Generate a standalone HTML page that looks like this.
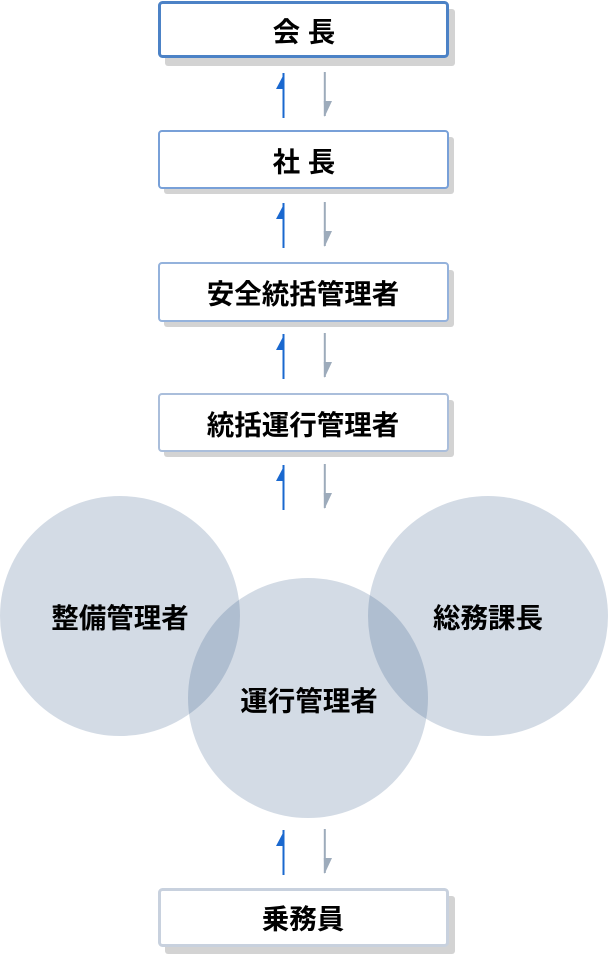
<!DOCTYPE html>
<html>
<head>
<meta charset="utf-8">
<style>
  html,body{margin:0;padding:0;background:#fff;}
  body{width:608px;height:954px;overflow:hidden;}
  svg{display:block;}
  text{font-family:"Liberation Sans","Noto Sans CJK JP",sans-serif;font-weight:bold;font-size:27.5px;fill:#000;}
</style>
</head>
<body>
<svg width="608" height="954" viewBox="0 0 608 954" xmlns="http://www.w3.org/2000/svg">
  <!-- 会長 -->
  <rect x="165" y="9" width="290" height="57" rx="3" fill="#d3d3d3"/>
  <rect x="159.5" y="2.5" width="288" height="54" rx="3" fill="#fff" stroke="#4c82c6" stroke-width="3"/>
  <text x="304" y="32" text-anchor="middle" dominant-baseline="central">会 長</text>

  <!-- 社長 -->
  <rect x="164" y="137" width="290" height="57" rx="3" fill="#d3d3d3"/>
  <rect x="159" y="131" width="289" height="57" rx="3" fill="#fff" stroke="#78a0d8" stroke-width="2"/>
  <text x="304" y="162" text-anchor="middle" dominant-baseline="central">社 長</text>

  <!-- 安全統括管理者 -->
  <rect x="164" y="270" width="290" height="57" rx="3" fill="#d3d3d3"/>
  <rect x="159" y="263" width="289" height="58" rx="3" fill="#fff" stroke="#94b2dc" stroke-width="2"/>
  <text x="303" y="294" text-anchor="middle" dominant-baseline="central">安全統括管理者</text>

  <!-- 統括運行管理者 -->
  <rect x="164" y="400" width="290" height="57" rx="3" fill="#d3d3d3"/>
  <rect x="159" y="394" width="289" height="57" rx="3" fill="#fff" stroke="#aabedb" stroke-width="2"/>
  <text x="303" y="425" text-anchor="middle" dominant-baseline="central">統括運行管理者</text>

  <!-- 乗務員 -->
  <rect x="165" y="896" width="290" height="58" rx="3" fill="#d3d3d3"/>
  <rect x="159.5" y="889.5" width="288" height="56" rx="3" fill="#fff" stroke="#c8d1de" stroke-width="3"/>
  <text x="303" y="919" text-anchor="middle" dominant-baseline="central">乗務員</text>

  <!-- Circles -->
  <circle cx="120" cy="616" r="120" fill="rgb(35,75,125)" fill-opacity="0.2"/>
  <circle cx="308" cy="698" r="120" fill="rgb(35,75,125)" fill-opacity="0.2"/>
  <circle cx="488" cy="616" r="120" fill="rgb(35,75,125)" fill-opacity="0.2"/>
  <text x="120" y="618" text-anchor="middle" dominant-baseline="central">整備管理者</text>
  <text x="309" y="701" text-anchor="middle" dominant-baseline="central">運行管理者</text>
  <text x="488" y="618" text-anchor="middle" dominant-baseline="central">総務課長</text>

  <!-- Arrows -->
  <defs>
    <g id="arr">
      <rect x="282.5" y="0" width="2" height="45" fill="#1a68cf"/>
      <polygon points="284.5,0 276,16 284.5,16" fill="#1a68cf"/>
      <rect x="323.8" y="-1" width="2" height="44" fill="#9dabbb"/>
      <polygon points="323.8,28 332,28 324.5,44" fill="#9dabbb"/>
    </g>
  </defs>
  <use href="#arr" transform="translate(0,73)"/>
  <use href="#arr" transform="translate(0,203)"/>
  <use href="#arr" transform="translate(0,334)"/>
  <use href="#arr" transform="translate(0,465)"/>
  <use href="#arr" transform="translate(0,830)"/>
</svg>
</body>
</html>
